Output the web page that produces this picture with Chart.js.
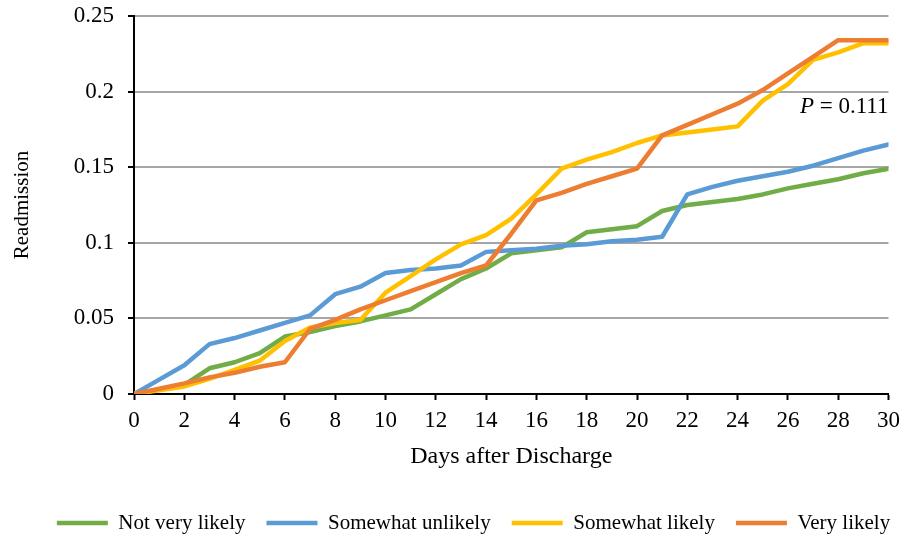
<!DOCTYPE html>
<html lang="en">
<head>
    <meta charset="UTF-8">
    <title>Readmission</title>
    <script src="https://cdn.jsdelivr.net/npm/chart.js"></script>
    <style>
        html, body {
            margin: 0;
            padding: 0;
            background: #ffffff;
        }
        #chart {
            display: block;
        }
    </style>
</head>
<body>
    <canvas id="chart" width="907" height="540"></canvas>

    <script>
        // Data
        const days = [0, 1, 2, 3, 4, 5, 6, 7, 8, 9, 10, 11, 12, 13, 14, 15, 16, 17, 18, 19, 20, 21, 22, 23, 24, 25, 26, 27, 28, 29, 30];
        const notVeryLikely = [0, 0.003, 0.006, 0.017, 0.021, 0.027, 0.038, 0.041, 0.045, 0.048, 0.052, 0.056, 0.066, 0.076, 0.083, 0.093,
            0.095, 0.097, 0.107, 0.109, 0.111, 0.121, 0.125, 0.127, 0.129, 0.132, 0.136, 0.139, 0.142, 0.146, 0.149];
        const somewhatUnlikely = [0, 0.0095, 0.019, 0.033, 0.037, 0.042, 0.047, 0.052, 0.066, 0.071, 0.080, 0.082, 0.083, 0.085, 0.094, 0.095,
            0.096, 0.098, 0.099, 0.101, 0.102, 0.104, 0.132, 0.137, 0.141, 0.144, 0.147, 0.151, 0.156, 0.161, 0.165];
        const somewhatLikely = [0, 0.0025, 0.005, 0.010, 0.016, 0.022, 0.035, 0.044, 0.047, 0.049, 0.067, 0.078, 0.089, 0.099, 0.105, 0.116,
            0.132, 0.149, 0.155, 0.160, 0.166, 0.171, 0.173, 0.175, 0.177, 0.194, 0.205, 0.221, 0.226, 0.232, 0.232];
        const veryLikely = [0, 0.0035, 0.007, 0.011, 0.014, 0.018, 0.021, 0.043, 0.049, 0.056, 0.062, 0.068, 0.074, 0.080, 0.085, 0.106,
            0.128, 0.133, 0.139, 0.144, 0.149, 0.171, 0.178, 0.185, 0.192, 0.201, 0.212, 0.223, 0.234, 0.234, 0.234];

        const seriesNames = ['Not very likely', 'Somewhat unlikely', 'Somewhat likely', 'Very likely'];
        const xTickLabels = ['0', '2', '4', '6', '8', '10', '12', '14', '16', '18', '20', '22', '24', '26', '28', '30'];
        const yTickLabels = ['0', '0.05', '0.1', '0.15', '0.2', '0.25'];
        const pValueText = '0.111';
        const pLabelAt = { x: 30, y: 0.19 };

        const FONT = '"Liberation Serif", "Times New Roman", serif';
        const colors = ['#70AD47', '#5B9BD5', '#FFC000', '#ED7D31'];

        function toPoints(values) {
            return values.map((v, i) => ({ x: days[i], y: v }));
        }

        function makeDataset(i, values) {
            return {
                label: seriesNames[i],
                data: toPoints(values),
                borderColor: colors[i],
                backgroundColor: colors[i],
                borderWidth: 4.5,
                pointRadius: 0,
                pointHoverRadius: 0,
                pointStyle: 'line',
                tension: 0,
                borderJoinStyle: 'round',
                borderCapStyle: 'round',
                order: 4 - i
            };
        }

        // Draws "P = 0.111" with an italic P
        const pValueLabel = {
            id: 'pValueLabel',
            afterDatasetsDraw(chart) {
                const ctx = chart.ctx;
                const x = chart.scales.x.getPixelForValue(pLabelAt.x);
                const y = chart.scales.y.getPixelForValue(pLabelAt.y);
                ctx.save();
                ctx.fillStyle = '#000';
                ctx.textBaseline = 'middle';
                ctx.textAlign = 'right';
                ctx.font = '23px ' + FONT;
                const rest = ' = ' + pValueText;
                ctx.fillText(rest, x, y);
                const w = ctx.measureText(rest).width;
                ctx.font = 'italic 23px ' + FONT;
                ctx.fillText('P', x - w, y);
                ctx.restore();
            }
        };

        // Move the legend row so it sits under the plot like the original
        const legendShift = {
            id: 'legendShift',
            afterLayout(chart) {
                const lg = chart.legend;
                if (!lg) return;
                lg.left = 35;
                lg.right = 912;
                lg.top += 3.5;
                lg.bottom += 3.5;
            }
        };

        const ctx = document.getElementById('chart').getContext('2d');
        new Chart(ctx, {
            type: 'line',
            data: {
                datasets: [
                    makeDataset(0, notVeryLikely),
                    makeDataset(1, somewhatUnlikely),
                    makeDataset(2, somewhatLikely),
                    makeDataset(3, veryLikely)
                ]
            },
            options: {
                responsive: false,
                animation: false,
                layout: {
                    padding: { left: 0, right: 17, top: 16, bottom: 0 }
                },
                plugins: {
                    tooltip: { enabled: false },
                    legend: {
                        position: 'bottom',
                        labels: {
                            usePointStyle: true,
                            pointStyle: 'line',
                            pointStyleWidth: 51,
                            padding: 21,
                            color: '#000',
                            font: { family: FONT, size: 21 },
                            sort: (a, b) => a.datasetIndex - b.datasetIndex
                        }
                    }
                },
                scales: {
                    x: {
                        type: 'linear',
                        min: 0,
                        max: 30,
                        afterFit(scale) { scale.height = 94; },
                        ticks: {
                            stepSize: 2,
                            padding: 7,
                            color: '#000',
                            font: { family: FONT, size: 23 },
                            maxRotation: 0,
                            callback: (value, index) => xTickLabels[index]
                        },
                        grid: {
                            drawOnChartArea: false,
                            drawTicks: true,
                            tickLength: 6,
                            tickColor: '#000',
                            tickWidth: 2
                        },
                        border: { color: '#000', width: 2 },
                        title: {
                            display: true,
                            text: 'Days after Discharge',
                            color: '#000',
                            font: { family: FONT, size: 24 },
                            padding: { top: 4, bottom: 17 }
                        }
                    },
                    y: {
                        min: 0,
                        max: 0.25,
                        afterFit(scale) {
                            scale.width = 134;
                            scale.paddingTop = 0;
                            scale.paddingBottom = 0;
                        },
                        ticks: {
                            stepSize: 0.05,
                            padding: 14,
                            color: '#000',
                            font: { family: FONT, size: 23 },
                            callback: (value, index) => yTickLabels[index]
                        },
                        grid: {
                            color: '#a6a6a6',
                            lineWidth: 2,
                            tickLength: 6,
                            tickColor: '#000',
                            tickWidth: 2
                        },
                        border: { color: '#000', width: 2 },
                        title: {
                            display: true,
                            text: 'Readmission',
                            color: '#000',
                            font: { family: FONT, size: 21 },
                            padding: { top: 10, bottom: 4 }
                        }
                    }
                }
            },
            plugins: [pValueLabel, legendShift]
        });
    </script>
</body>
</html>
